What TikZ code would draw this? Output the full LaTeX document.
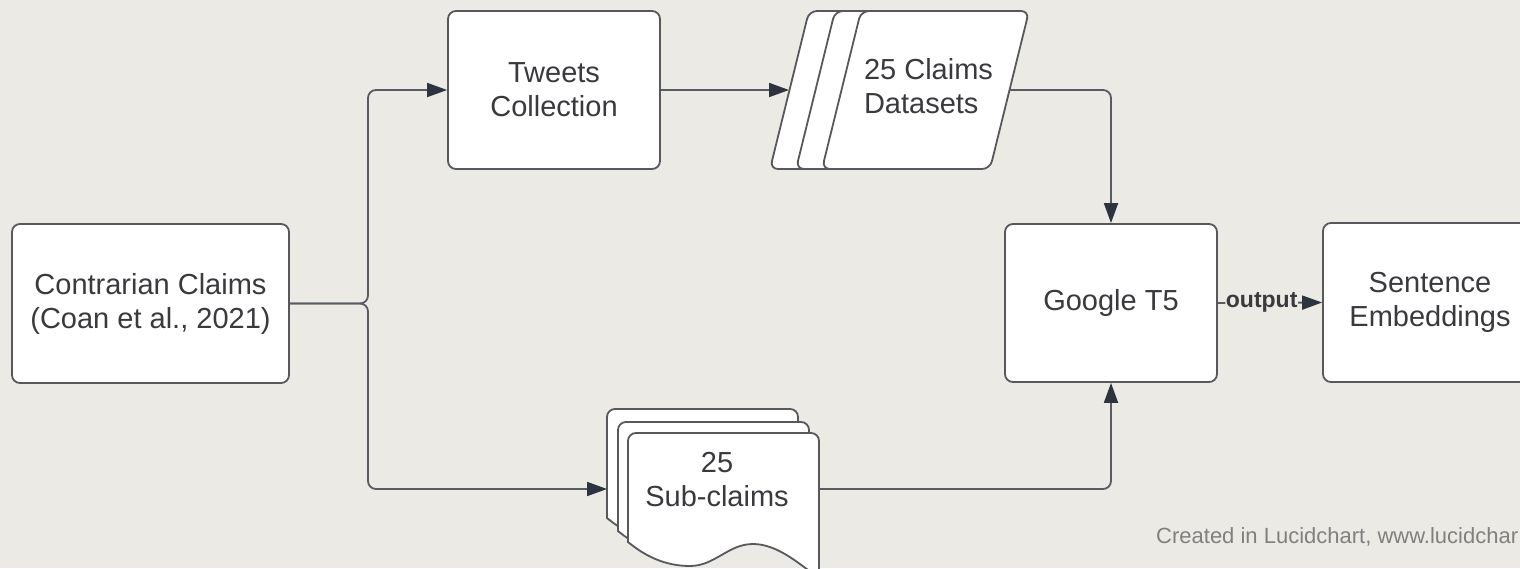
\documentclass[tikz,border=0pt]{standalone}
\usepackage{fontspec}
\setmainfont{Liberation Sans}
\usetikzlibrary{arrows.meta}
\definecolor{bg}{RGB}{236,234,229}
\definecolor{bord}{RGB}{88,88,90}
\definecolor{txt}{RGB}{58,58,62}
\definecolor{connc}{RGB}{88,92,98}
\definecolor{tipc}{RGB}{45,52,64}
\definecolor{foot}{RGB}{128,128,128}
\begin{document}
\begin{tikzpicture}[x=1pt,y=-1pt,
  box/.style={draw=bord, line width=1.8pt, fill=white, rounded corners=8pt, align=center, text=txt, font=\fontsize{29}{34}\selectfont, inner sep=0pt},
  shapeline/.style={draw=bord, line width=1.8pt, fill=white},
  lbl/.style={text=txt, font=\fontsize{29}{34}\selectfont, inner sep=0pt},
  conn/.style={draw=connc, line width=1.8pt, rounded corners=8pt, -{Triangle[length=20pt,width=14pt,fill=tipc,color=tipc]}},
  outlbl/.style={fill=bg, text=txt, font=\bfseries\fontsize{23}{26}\selectfont, inner sep=0.5pt}
]
\fill[bg] (0,0) rectangle (1520,568);
\useasboundingbox (0,0) rectangle (1520,568);
\begin{scope}
\clip (0,0) rectangle (1520,568);

% boxes
\node[box, minimum width=277pt, minimum height=159pt] (contr) at (150.5,303.5) {Contrarian Claims\\(Coan et al., 2021)};
\node[box, minimum width=212pt, minimum height=158pt] (tweets) at (554,90) {Tweets\\Collection};
\node[box, minimum width=212pt, minimum height=158pt] (google) at (1111,303) {Google T5};
\node[box, minimum width=214pt, minimum height=159pt] (sent) at (1430,302.5) {Sentence\\Embeddings};

% stacked parallelograms
\foreach \dx in {-52,-26,0} {
  \draw[shapeline, rounded corners=8pt] (945+\dx,11) -- (1029+\dx,11) -- (990+\dx,169) -- (822+\dx,169) -- (861+\dx,11) -- cycle;
}
\node[lbl, align=left] (datasets) at (928.5,86) {25 Claims\\Datasets};
\coordinate (dsin) at (789,90);
\coordinate (dsout) at (1010,90);

% stacked documents
\foreach \dx/\dy in {-21/-24,-10/-11,0/0} {
  \begin{scope}[shift={(\dx,\dy)}]
    \draw[shapeline] (628,542) [rounded corners=8pt] -- (628,433) -- (819,433) -- (819,578) [sharp corners]
      .. controls (797,562) and (776,544) .. (753,544)
      .. controls (728,544) and (715,566) .. (690,566)
      .. controls (665,566) and (645,556) .. (628,542) -- cycle;
  \end{scope}
}
\node[lbl, align=center] (subclaims) at (717,480) {25\\Sub-claims};
\coordinate (scin) at (607,489);
\coordinate (scout) at (819,489);

% connectors
\coordinate (jnx) at (368,0);
\draw[conn] (contr.east) -- (contr.east -| jnx) |- (tweets.west);
\draw[conn] (contr.east) -- (contr.east -| jnx) |- (scin);
\draw[conn] (tweets.east) -- (dsin);
\draw[conn] (dsout) -| (google.north);
\draw[conn] (scout) -| (google.south);
\draw[conn] (google.east) -- node[outlbl, pos=0.42] (outlabel) {output} (sent.west);

% footer
\node[anchor=base west, text=foot, font=\fontsize{22}{26}\selectfont, inner sep=0pt] (footer) at (1156,543) {Created in Lucidchart, www.lucidchar};
\end{scope}
\end{tikzpicture}
\end{document}
